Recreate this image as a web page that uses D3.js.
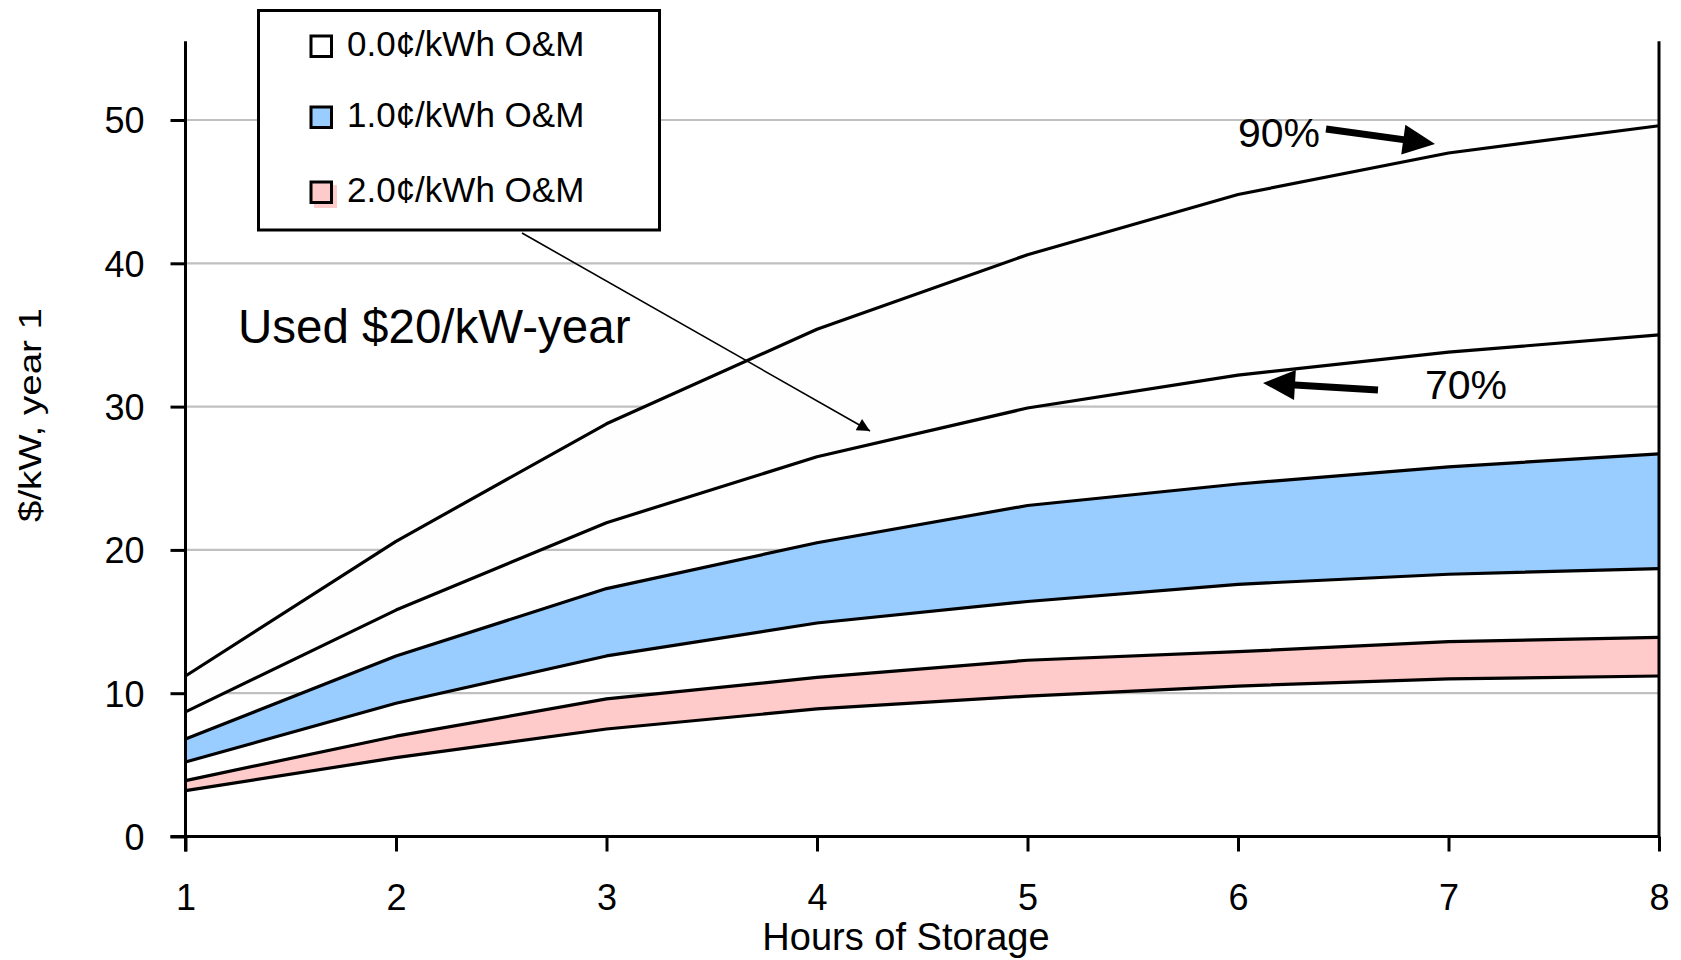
<!DOCTYPE html>
<html>
<head>
<meta charset="utf-8">
<script src="https://cdn.jsdelivr.net/npm/d3@7"></script>
<style>
  html, body { margin: 0; padding: 0; background: #fff; }
  svg text { font-family: "Liberation Sans", Arial, Helvetica, sans-serif; fill: #000; }
</style>
</head>
<body>
<div id="chart"></div>
<script>
// hours of storage on the x axis
const hours = [1, 2, 3, 4, 5, 6, 7, 8];

// $/kW, year 1 -- upper line is 90% efficiency, lower line is 70%
const om0_90 = [11.2, 20.6, 28.8, 35.4, 40.6, 44.8, 47.7, 49.6];
const om0_70 = [8.7, 15.8, 21.9, 26.5, 29.9, 32.2, 33.8, 35.0];
const om1_90 = [6.8, 12.6, 17.3, 20.5, 23.1, 24.6, 25.8, 26.7];
const om1_70 = [5.2, 9.3, 12.6, 14.9, 16.4, 17.6, 18.3, 18.7];
const om2_90 = [3.9, 7.0, 9.6, 11.1, 12.3, 12.9, 13.6, 13.9];
const om2_70 = [3.2, 5.5, 7.5, 8.9, 9.8, 10.5, 11.0, 11.2];

const yTicks = [0, 10, 20, 30, 40, 50];
const legendLabels = ["0.0\u00a2/kWh O&M", "1.0\u00a2/kWh O&M", "2.0\u00a2/kWh O&M"];
const bandColors = ["#fefefe", "#99ccff", "#ffcaca"];

const W = 1681, H = 960;
const svg = d3.select("#chart").append("svg")
    .attr("width", W).attr("height", H);

const x = d3.scaleLinear().domain([1, 8]).range([185.5, 1659]);
const y = d3.scaleLinear().domain([0, 55.5]).range([836.5, 41.2]);

// gridlines
svg.append("g").selectAll("line")
    .data(yTicks.filter(d => d > 0))
    .enter().append("line")
    .attr("x1", x(1)).attr("x2", x(8))
    .attr("y1", d => y(d)).attr("y2", d => y(d))
    .attr("stroke", "#c0c0c0").attr("stroke-width", 2.2);

// bands
const bands = [
    { upper: om0_90, lower: om0_70, color: bandColors[0] },
    { upper: om1_90, lower: om1_70, color: bandColors[1] },
    { upper: om2_90, lower: om2_70, color: bandColors[2] }
];

const area = d3.area()
    .x(d => x(d.h))
    .y0(d => y(d.lo))
    .y1(d => y(d.hi));
const line = d3.line().x(d => x(d[0])).y(d => y(d[1]));

bands.forEach(b => {
    const rows = hours.map((h, i) => ({ h: h, lo: b.lower[i], hi: b.upper[i] }));
    svg.append("path").datum(rows)
        .attr("d", area)
        .attr("fill", b.color);
});
bands.forEach(b => {
    [b.upper, b.lower].forEach(s => {
        svg.append("path").datum(hours.map((h, i) => [h, s[i]]))
            .attr("d", line)
            .attr("fill", "none")
            .attr("stroke", "#000")
            .attr("stroke-width", 3.2)
            .attr("stroke-linejoin", "round");
    });
});

// axes
const xAxis = svg.append("g")
    .attr("transform", `translate(0,${y(0)})`)
    .call(d3.axisBottom(x).tickValues(hours).tickSize(15).tickSizeOuter(0).tickPadding(33).tickFormat(d3.format("d")));
const yAxis = svg.append("g")
    .attr("transform", `translate(${x(1)},0)`)
    .call(d3.axisLeft(y).tickValues(yTicks).tickSize(15).tickSizeOuter(0).tickPadding(26));

[xAxis, yAxis].forEach(a => {
    a.select(".domain").attr("stroke", "#000").attr("stroke-width", 3);
    a.selectAll(".tick line").attr("stroke", "#000").attr("stroke-width", 3);
    a.selectAll("text").style("font-family", "'Liberation Sans', Arial, sans-serif")
        .attr("fill", "#000").style("font-size", "36px");
});
xAxis.select(".domain").attr("d", `M${x(1) - 15},0H${x(8)}`);
yAxis.select(".domain").attr("d", `M0,${y(0) + 15}V${y.range()[1]}`);
yAxis.selectAll(".tick text").attr("dy", "0.36em");

// right border of plot
svg.append("line")
    .attr("x1", x(8)).attr("x2", x(8))
    .attr("y1", y(0) + 1.5).attr("y2", y.range()[1])
    .attr("stroke", "#000").attr("stroke-width", 3);

// axis titles
svg.append("text")
    .attr("x", 906).attr("y", 950)
    .attr("text-anchor", "middle")
    .style("font-size", "38px")
    .text("Hours of Storage");

svg.append("text")
    .attr("transform", "translate(41,415) rotate(-90)")
    .attr("text-anchor", "middle")
    .attr("textLength", 214).attr("lengthAdjust", "spacingAndGlyphs")
    .style("font-size", "31px")
    .text("$/kW, year 1");

// annotations
svg.append("text")
    .attr("x", 238).attr("y", 343)
    .style("font-size", "47.5px")
    .text("Used $20/kW-year");

svg.append("text").attr("x", 1238).attr("y", 147).style("font-size", "41px").text("90%");
svg.append("text").attr("x", 1425).attr("y", 399).style("font-size", "41px").text("70%");

const defs = svg.append("defs");
defs.append("marker")
    .attr("id", "thinHead")
    .attr("viewBox", "0 0 10 10")
    .attr("refX", 10).attr("refY", 5)
    .attr("markerWidth", 10).attr("markerHeight", 8)
    .attr("markerUnits", "strokeWidth")
    .attr("orient", "auto")
    .append("path").attr("d", "M0,0L10,5L0,10Z").attr("fill", "#000");

svg.append("line")
    .attr("x1", 522).attr("y1", 233)
    .attr("x2", 870).attr("y2", 431)
    .attr("stroke", "#000").attr("stroke-width", 1.6)
    .attr("marker-end", "url(#thinHead)");

function fatArrow(x0, y0, x1, y1) {
    const ang = Math.atan2(y1 - y0, x1 - x0);
    const len = Math.hypot(x1 - x0, y1 - y0);
    const headL = 32, headW = 15, shaft = 3.5;
    const pts = [
        [0, -shaft], [len - headL, -shaft], [len - headL, -headW],
        [len, 0], [len - headL, headW], [len - headL, shaft], [0, shaft]
    ];
    svg.append("path")
        .attr("d", "M" + pts.map(p => p.join(",")).join("L") + "Z")
        .attr("transform", `translate(${x0},${y0}) rotate(${ang * 180 / Math.PI})`)
        .attr("fill", "#000");
}
fatArrow(1326, 129, 1435, 144);
fatArrow(1378, 390, 1263, 383);

// legend
const legend = svg.append("g");
legend.append("rect")
    .attr("x", 258.5).attr("y", 10.5)
    .attr("width", 401).attr("height", 219.5)
    .attr("fill", "#fff").attr("stroke", "#000").attr("stroke-width", 3);

const rowY = [46, 117, 192];
legendLabels.forEach((lab, i) => {
    if (i === 2) {
        legend.append("rect")
            .attr("x", 314).attr("y", 185)
            .attr("width", 23).attr("height", 23)
            .attr("fill", bandColors[2]);
    }
    legend.append("rect")
        .attr("x", 311).attr("y", rowY[i] - 10)
        .attr("width", 20.5).attr("height", 20.5)
        .attr("fill", i === 0 ? "#fff" : bandColors[i])
        .attr("stroke", "#000").attr("stroke-width", 3);
    legend.append("text")
        .attr("x", 347).attr("y", rowY[i] + 10)
        .style("font-size", "35px")
        .text(lab);
});
</script>
</body>
</html>
